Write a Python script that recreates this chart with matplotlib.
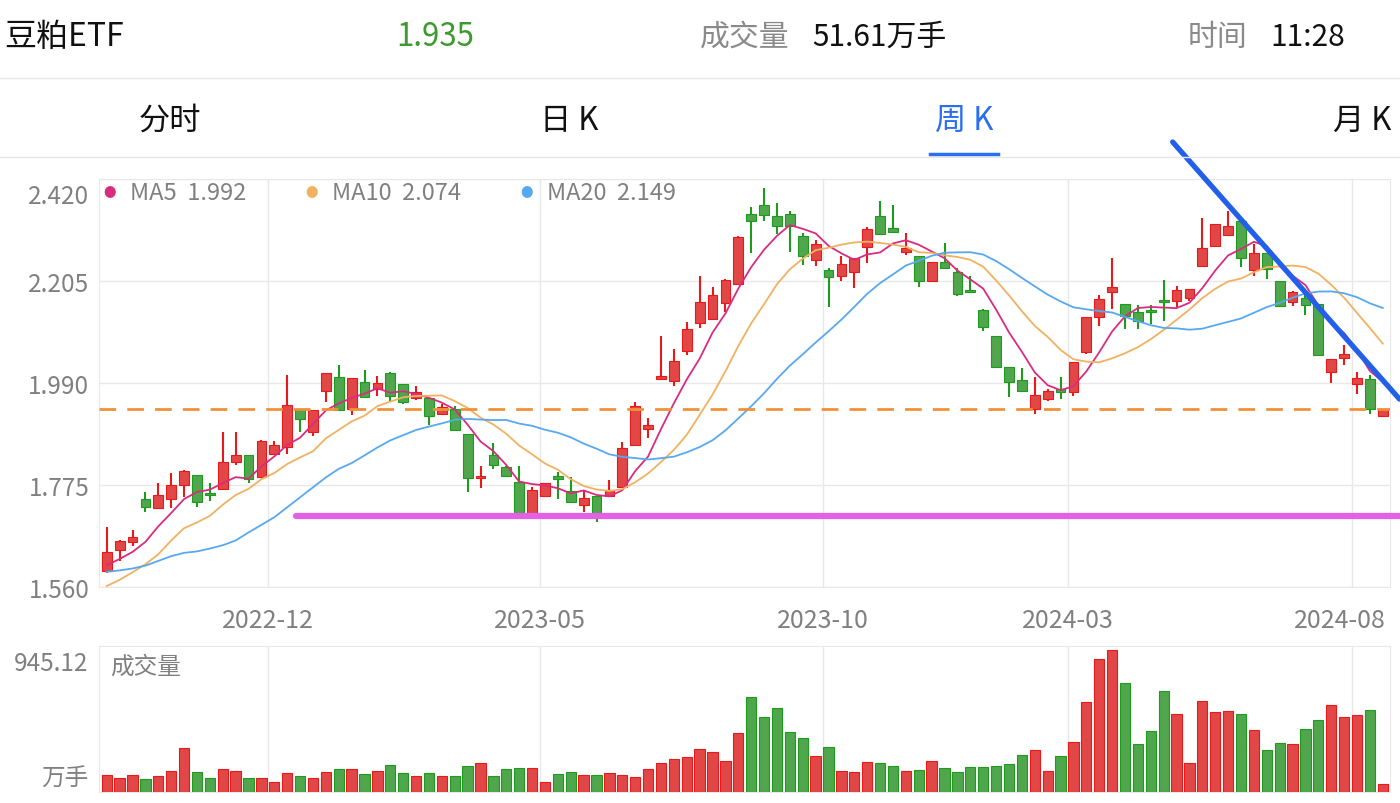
import matplotlib
matplotlib.use("Agg")
import matplotlib.pyplot as plt
import numpy as np
import pandas as pd

plt.rcParams['font.family'] = ['Noto Sans CJK SC', 'DejaVu Sans']

# weekly candles (open, high, low, close)
opens = [1.594, 1.638, 1.655, 1.745, 1.726, 1.745, 1.775, 1.796, 1.758, 1.767,
         1.823, 1.838, 1.792, 1.840, 1.855, 1.933, 1.887, 1.973, 2.003, 1.935,
         1.992, 1.977, 2.011, 1.988, 1.958, 1.958, 1.925, 1.935, 1.882, 1.790,
         1.838, 1.813, 1.781, 1.716, 1.752, 1.794, 1.762, 1.733, 1.752, 1.752,
         1.771, 1.859, 1.893, 1.998, 1.994, 2.057, 2.116, 2.125, 2.159, 2.199,
         2.346, 2.365, 2.342, 2.346, 2.300, 2.249, 2.228, 2.216, 2.224, 2.277,
         2.342, 2.317, 2.266, 2.258, 2.205, 2.245, 2.224, 2.184, 2.144, 2.089,
         2.024, 1.996, 1.935, 1.956, 1.977, 1.971, 2.055, 2.129, 2.182, 2.156,
         2.140, 2.142, 2.165, 2.163, 2.169, 2.237, 2.279, 2.302, 2.331, 2.228,
         2.264, 2.205, 2.161, 2.169, 2.156, 2.013, 2.043, 1.988, 1.998, 1.920]
highs = [1.686, 1.659, 1.680, 1.760, 1.779, 1.800, 1.807, 1.796, 1.779, 1.887,
         1.887, 1.838, 1.870, 1.868, 2.007, 1.933, 1.933, 2.011, 2.028, 2.001,
         2.017, 2.005, 2.013, 1.988, 1.984, 1.958, 1.946, 1.941, 1.882, 1.815,
         1.863, 1.815, 1.815, 1.771, 1.779, 1.802, 1.792, 1.764, 1.752, 1.785,
         1.866, 1.950, 1.916, 2.089, 2.062, 2.119, 2.216, 2.192, 2.209, 2.300,
         2.361, 2.401, 2.369, 2.353, 2.306, 2.291, 2.232, 2.258, 2.253, 2.319,
         2.374, 2.365, 2.306, 2.258, 2.245, 2.285, 2.232, 2.216, 2.146, 2.089,
         2.024, 2.022, 2.003, 1.977, 2.003, 2.034, 2.129, 2.175, 2.253, 2.156,
         2.154, 2.154, 2.207, 2.194, 2.188, 2.338, 2.325, 2.353, 2.331, 2.283,
         2.264, 2.205, 2.184, 2.182, 2.156, 2.041, 2.070, 2.013, 2.007, 1.935]
lows = [1.589, 1.615, 1.646, 1.718, 1.726, 1.726, 1.750, 1.729, 1.741, 1.767,
        1.817, 1.779, 1.790, 1.838, 1.840, 1.887, 1.878, 1.950, 1.933, 1.923,
        1.960, 1.963, 1.952, 1.946, 1.954, 1.901, 1.923, 1.891, 1.760, 1.769,
        1.809, 1.792, 1.716, 1.716, 1.752, 1.745, 1.739, 1.718, 1.697, 1.752,
        1.771, 1.859, 1.874, 1.998, 1.984, 2.049, 2.106, 2.125, 2.140, 2.197,
        2.264, 2.331, 2.304, 2.266, 2.239, 2.237, 2.150, 2.205, 2.190, 2.243,
        2.304, 2.308, 2.260, 2.192, 2.205, 2.232, 2.173, 2.182, 2.100, 2.024,
        1.960, 1.973, 1.925, 1.952, 1.956, 1.963, 2.051, 2.110, 2.146, 2.104,
        2.104, 2.114, 2.121, 2.150, 2.163, 2.234, 2.279, 2.302, 2.234, 2.216,
        2.209, 2.150, 2.152, 2.133, 2.049, 1.990, 2.028, 1.967, 1.925, 1.918]
closes = [1.634, 1.657, 1.665, 1.729, 1.754, 1.775, 1.804, 1.739, 1.754, 1.823,
          1.838, 1.788, 1.868, 1.859, 1.944, 1.914, 1.933, 2.011, 1.933, 2.001,
          1.960, 1.990, 1.963, 1.950, 1.971, 1.920, 1.939, 1.891, 1.790, 1.794,
          1.817, 1.794, 1.716, 1.764, 1.779, 1.788, 1.739, 1.748, 1.716, 1.764,
          1.853, 1.941, 1.901, 2.005, 2.036, 2.104, 2.161, 2.175, 2.207, 2.298,
          2.331, 2.344, 2.321, 2.321, 2.258, 2.283, 2.213, 2.241, 2.253, 2.315,
          2.304, 2.308, 2.275, 2.205, 2.245, 2.232, 2.178, 2.182, 2.108, 2.024,
          1.992, 1.973, 1.965, 1.973, 1.971, 2.034, 2.129, 2.167, 2.192, 2.131,
          2.121, 2.140, 2.161, 2.186, 2.188, 2.275, 2.325, 2.321, 2.253, 2.264,
          2.230, 2.152, 2.182, 2.154, 2.049, 2.041, 2.051, 2.001, 1.935, 1.935]
# volume, 万手
volumes = [113, 91, 113, 86, 106, 139, 292, 133, 96, 155,
           139, 93, 96, 66, 126, 109, 96, 133, 153, 153,
           120, 137, 179, 126, 106, 126, 106, 106, 173, 193,
           109, 151, 159, 162, 66, 118, 133, 113, 113, 126,
           113, 98, 151, 193, 219, 232, 286, 268, 204, 390,
           631, 496, 560, 396, 357, 239, 301, 142, 131, 199,
           195, 171, 142, 146, 204, 159, 133, 166, 169, 175,
           184, 244, 277, 139, 239, 332, 600, 881, 945.12, 724,
           317, 403, 671, 518, 191, 602, 534, 536, 516, 414,
           279, 325, 317, 416, 476, 578, 496, 509, 542, 51.61]

# moving averages before a full window is visible
ma5_head = [1.606, 1.619, 1.634, 1.655]
ma10_head = [1.562, 1.575, 1.591, 1.608, 1.629, 1.658, 1.684, 1.696, 1.710]
ma20_head = [1.592, 1.595, 1.599, 1.605, 1.615, 1.625, 1.632, 1.635, 1.641, 1.648,
             1.658, 1.675, 1.691, 1.707, 1.728, 1.749, 1.770, 1.791, 1.809]
ma_windows = [5, 10, 20]
ma_legend = [1.992, 2.074, 2.149]

price_ticks = [1.560, 1.775, 1.990, 2.205, 2.420]
date_ticks = [12.5, 33.6, 55.6, 74.6, 96.6]
date_labels = ['2022-12', '2023-05', '2023-10', '2024-03', '2024-08']
vol_max_label = '945.12'

last_price = 1.935
support_price = 1.710
support_x = [14.7, 100.3]
trend_x = [82.7, 100.3]
trend_y = [2.498, 1.956]

RED, RED_EDGE = '#e24747', '#e8191b'
GREEN, GREEN_EDGE = '#50a64c', '#1c9b1c'
GRID = '#e8e8e8'
GRAY = '#808080'

W, H = 1400, 804
fig = plt.figure(figsize=(W / 100, H / 100), dpi=100)


def fx(px):
    return px / W


def fy(py):
    return 1 - py / H


# header
fig.text(fx(4), fy(37), '豆粕ETF', fontsize=23, color='#111111', va='center')
fig.text(fx(435), fy(37), f'{last_price:.3f}', fontsize=22.5, color='#3c9a2e', va='center', ha='center')
fig.text(fx(700), fy(37), '成交量', fontsize=21.5, color='#8a8a8a', va='center')
fig.text(fx(812), fy(37), '51.61万手', fontsize=21.5, color='#111111', va='center')
fig.text(fx(1188), fy(37), '时间', fontsize=21.5, color='#8a8a8a', va='center')
fig.text(fx(1270), fy(37), '11:28', fontsize=21.5, color='#111111', va='center')
for yy in (79, 158):
    fig.add_artist(plt.Line2D([0, 1], [fy(yy), fy(yy)], color='#e6e6e6', lw=1))

tabs = [('分时', 170, '#111111'), ('日 K', 569, '#111111'), ('周 K', 964, '#2a6ff0'), ('月 K', 1362, '#111111')]
for name, cx, col in tabs:
    fig.text(fx(cx), fy(121), name, fontsize=22.5, color=col, va='center', ha='center')
fig.add_artist(plt.Line2D([fx(930), fx(998)], [fy(155), fy(155)], color='#2a6ff0', lw=2.5))

n = len(closes)
idx = np.arange(n)
o = np.array(opens)
c = np.array(closes)
up = c >= o

# price panel
ax = fig.add_axes([fx(99), fy(588), fx(1291), (588 - 180) / H])
ax.set_xlim(-0.6, n - 0.44)
ax.set_ylim(price_ticks[0], price_ticks[-1])
for t in price_ticks:
    ax.axhline(t, color=GRID, lw=1, zorder=0)
for t in date_ticks:
    ax.axvline(t, color=GRID, lw=1, zorder=0)
for s in ax.spines.values():
    s.set_color(GRID)
ax.set_xticks([])
ax.set_yticks([])

ax.vlines(idx[up], np.array(lows)[up], np.array(highs)[up], color=RED_EDGE, lw=1.5, zorder=2)
ax.vlines(idx[~up], np.array(lows)[~up], np.array(highs)[~up], color=GREEN_EDGE, lw=1.5, zorder=2)
body_lo = np.minimum(o, c)
body_h = np.maximum(np.abs(c - o), 0.004)
ax.bar(idx[up], body_h[up], bottom=body_lo[up], width=0.76, color=RED, edgecolor=RED_EDGE, lw=0.8, zorder=3)
ax.bar(idx[~up], body_h[~up], bottom=body_lo[~up], width=0.76, color=GREEN, edgecolor=GREEN_EDGE, lw=0.8, zorder=3)

cs = pd.Series(closes)
ma_colors = {5: '#d92b80', 10: '#f2b161', 20: '#58a8f0'}
ma_heads = {5: ma5_head, 10: ma10_head, 20: ma20_head}
for w in ma_windows:
    ma = cs.rolling(w).mean().to_numpy()
    ma[:w - 1] = ma_heads[w]
    ax.plot(idx, ma, color=ma_colors[w], lw=1.3, zorder=4)

ax.axhline(last_price, color='#f0913a', lw=2, dashes=(6, 4), zorder=5)
ax.plot(support_x, [support_price, support_price], color='#e461e6', lw=4.5,
        solid_capstyle='round', clip_on=False, zorder=6)
ax.plot(trend_x, trend_y, color='#2360ea', lw=3.8, solid_capstyle='round', clip_on=False, zorder=7)

# legend
dot_x = [110, 312, 527]
for w, val, px in zip(ma_windows, ma_legend, dot_x):
    fig.text(fx(px), fy(193), '●', fontsize=9, color=ma_colors[w], va='center', ha='center')
    fig.text(fx(px + 20), fy(194), f'MA{w}  {val:.3f}', fontsize=17, color=GRAY, va='center')

for t in price_ticks:
    dy = -12 if t == price_ticks[-1] else -2
    ax.annotate(f'{t:.3f}', xy=(0, t), xycoords=('axes fraction', 'data'),
                xytext=(-7, dy), textcoords='offset points', ha='right', va='center',
                fontsize=17.5, color=GRAY)
for k, (t, lab) in enumerate(zip(date_ticks, date_labels)):
    if k == len(date_ticks) - 1:
        # last label is kept inside the right edge
        ax.annotate(lab, xy=(1, 0), xycoords='axes fraction',
                    xytext=(-3, -24), textcoords='offset points', ha='right', va='center',
                    fontsize=18, color=GRAY)
    else:
        ax.annotate(lab, xy=(t, 0), xycoords=('data', 'axes fraction'),
                    xytext=(0, -24), textcoords='offset points', ha='center', va='center',
                    fontsize=18, color=GRAY)

# volume panel
vx = fig.add_axes([fx(99), fy(793), fx(1291), (793 - 647) / H])
vx.set_xlim(ax.get_xlim())
vx.set_ylim(0, max(volumes) / 0.975)
for t in date_ticks:
    vx.axvline(t, color=GRID, lw=1, zorder=0)
for s in vx.spines.values():
    s.set_color(GRID)
vx.set_xticks([])
vx.set_yticks([])
v = np.array(volumes)
vx.bar(idx[up], v[up], width=0.8, color=RED, edgecolor=RED_EDGE, lw=0.8, zorder=3)
vx.bar(idx[~up], v[~up], width=0.8, color=GREEN, edgecolor=GREEN_EDGE, lw=0.8, zorder=3)
vx.text(0.009, 0.86, '成交量', transform=vx.transAxes, fontsize=17, color=GRAY, va='center')
fig.text(fx(88), fy(664), vol_max_label, fontsize=17.5, color=GRAY, ha='right', va='center')
fig.text(fx(88), fy(779), '万手', fontsize=17, color=GRAY, ha='right', va='center')

fig.savefig('out.png', dpi=100)
